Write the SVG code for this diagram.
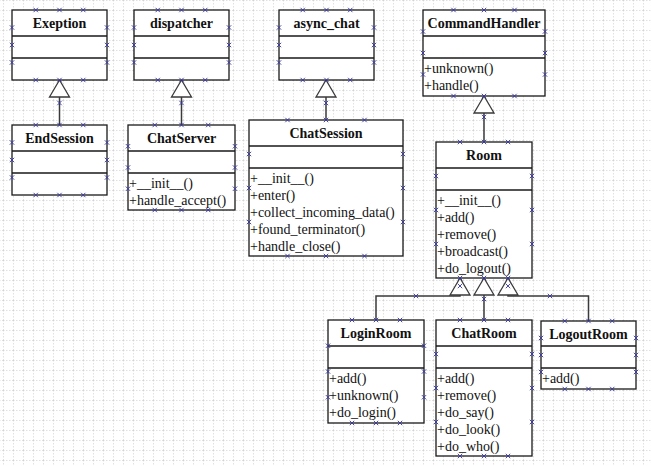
<svg xmlns="http://www.w3.org/2000/svg" xmlns:xlink="http://www.w3.org/1999/xlink" width="651" height="466" viewBox="0 0 651 466">
<style>
.box{fill:#fff;stroke:#1a1a1a;stroke-width:1.3}
.sep{stroke:#1a1a1a;stroke-width:1.3}
.hd{font-family:"Liberation Serif","Times New Roman",serif;font-weight:bold;font-size:14px;text-anchor:middle;fill:#111}
.op{font-family:"Liberation Serif","Times New Roman",serif;font-size:14px;fill:#111}
.con{fill:none;stroke:#3a3a3a;stroke-width:1.5}
.tri{fill:#fff;stroke:#3a3a3a;stroke-width:1.3}
.hx{stroke:#3636a6;stroke-width:0.9;fill:none}
</style>
<defs>
<pattern id="grid" x="3" y="0" width="10" height="10" patternUnits="userSpaceOnUse">
<path d="M0 0V10M0 0H10" fill="none" stroke="#c4c4c4" stroke-width="1" stroke-dasharray="1.5 1.5"/>
</pattern>
<symbol id="h" overflow="visible"><path class="hx" d="M-2.2-2.2L2.2 2.2M-2.2 2.2L2.2-2.2"/></symbol>
</defs>
<rect width="651" height="466" fill="#fff"/>
<rect width="651" height="466" fill="url(#grid)"/>

<g id="connectors">
<path class="con" d="M59.5 97V125"/>
<path class="tri" d="M59.5 80L49.5 97H69.5Z"/>
<path class="con" d="M181.5 97V125"/>
<path class="tri" d="M181.5 80L171.5 97H191.5Z"/>
<path class="con" d="M326 97V120"/>
<path class="tri" d="M326 80L316 97H336Z"/>
<path class="con" d="M484 113V142"/>
<path class="tri" d="M484 96L474 113H494Z"/>
<path class="con" d="M376 320V296H460V295"/>
<path class="con" d="M484 295V320"/>
<path class="con" d="M508 295V296H588.5V321"/>
<path class="tri" d="M460 278L450 295H470Z"/>
<path class="tri" d="M484 278L474 295H494Z"/>
<path class="tri" d="M508 278L498 295H518Z"/>
<use href="#h" x="59.5" y="103"/>
<use href="#h" x="181.5" y="103"/>
<use href="#h" x="326" y="103"/>
<use href="#h" x="484" y="117"/>
<use href="#h" x="416" y="296"/>
<use href="#h" x="484" y="299"/>
<use href="#h" x="550" y="296"/>
<use href="#h" x="460" y="286"/>
<use href="#h" x="508" y="286"/>
</g>

<g id="Exeption">
<rect class="box" x="12" y="10" width="95" height="70"/>
<path class="sep" d="M12 36H107M12 58H107"/>
<text class="hd" x="59.5" y="28">Exeption</text>
<use href="#h" x="35.75" y="10"/><use href="#h" x="59.5" y="10"/><use href="#h" x="83.25" y="10"/>
<use href="#h" x="35.75" y="80"/><use href="#h" x="59.5" y="80"/><use href="#h" x="83.25" y="80"/>
<use href="#h" x="12" y="27.5"/><use href="#h" x="12" y="45"/><use href="#h" x="12" y="62.5"/>
<use href="#h" x="107" y="27.5"/><use href="#h" x="107" y="45"/><use href="#h" x="107" y="62.5"/>
</g>

<g id="dispatcher">
<rect class="box" x="134" y="10" width="95" height="70"/>
<path class="sep" d="M134 36H229M134 58H229"/>
<text class="hd" x="181.5" y="28">dispatcher</text>
<use href="#h" x="157.75" y="10"/><use href="#h" x="181.5" y="10"/><use href="#h" x="205.25" y="10"/>
<use href="#h" x="157.75" y="80"/><use href="#h" x="181.5" y="80"/><use href="#h" x="205.25" y="80"/>
<use href="#h" x="134" y="27.5"/><use href="#h" x="134" y="45"/><use href="#h" x="134" y="62.5"/>
<use href="#h" x="229" y="27.5"/><use href="#h" x="229" y="45"/><use href="#h" x="229" y="62.5"/>
</g>

<g id="async_chat">
<rect class="box" x="279" y="10" width="95" height="70"/>
<path class="sep" d="M279 36H374M279 58H374"/>
<text class="hd" x="326.5" y="28">async_chat</text>
<use href="#h" x="302.75" y="10"/><use href="#h" x="326.5" y="10"/><use href="#h" x="350.25" y="10"/>
<use href="#h" x="302.75" y="80"/><use href="#h" x="326.5" y="80"/><use href="#h" x="350.25" y="80"/>
<use href="#h" x="279" y="27.5"/><use href="#h" x="279" y="45"/><use href="#h" x="279" y="62.5"/>
<use href="#h" x="374" y="27.5"/><use href="#h" x="374" y="45"/><use href="#h" x="374" y="62.5"/>
</g>

<g id="CommandHandler">
<rect class="box" x="423" y="10" width="122" height="86"/>
<path class="sep" d="M423 36H545M423 58H545"/>
<text class="hd" x="484" y="28">CommandHandler</text>
<text class="op" x="424" y="73">+unknown()</text>
<text class="op" x="424" y="90">+handle()</text>
<use href="#h" x="453.5" y="10"/><use href="#h" x="484" y="10"/><use href="#h" x="514.5" y="10"/>
<use href="#h" x="453.5" y="96"/><use href="#h" x="484" y="96"/><use href="#h" x="514.5" y="96"/>
<use href="#h" x="423" y="31.5"/><use href="#h" x="423" y="53"/><use href="#h" x="423" y="74.5"/>
<use href="#h" x="545" y="31.5"/><use href="#h" x="545" y="53"/><use href="#h" x="545" y="74.5"/>
</g>

<g id="EndSession">
<rect class="box" x="12" y="125" width="95" height="70"/>
<path class="sep" d="M12 151H107M12 173H107"/>
<text class="hd" x="59.5" y="143">EndSession</text>
<use href="#h" x="35.75" y="125"/><use href="#h" x="59.5" y="125"/><use href="#h" x="83.25" y="125"/>
<use href="#h" x="35.75" y="195"/><use href="#h" x="59.5" y="195"/><use href="#h" x="83.25" y="195"/>
<use href="#h" x="12" y="142.5"/><use href="#h" x="12" y="160"/><use href="#h" x="12" y="177.5"/>
<use href="#h" x="107" y="142.5"/><use href="#h" x="107" y="160"/><use href="#h" x="107" y="177.5"/>
</g>

<g id="ChatServer">
<rect class="box" x="128" y="125" width="107" height="85"/>
<path class="sep" d="M128 151H235M128 173H235"/>
<text class="hd" x="181.5" y="143">ChatServer</text>
<text class="op" x="129" y="188">+__init__()</text>
<text class="op" x="129" y="205">+handle_accept()</text>
<use href="#h" x="154.75" y="125"/><use href="#h" x="181.5" y="125"/><use href="#h" x="208.25" y="125"/>
<use href="#h" x="154.75" y="210"/><use href="#h" x="181.5" y="210"/><use href="#h" x="208.25" y="210"/>
<use href="#h" x="128" y="146.25"/><use href="#h" x="128" y="167.5"/><use href="#h" x="128" y="188.75"/>
<use href="#h" x="235" y="146.25"/><use href="#h" x="235" y="167.5"/><use href="#h" x="235" y="188.75"/>
</g>

<g id="ChatSession">
<rect class="box" x="249" y="120" width="154" height="136"/>
<path class="sep" d="M249 146H403M249 168H403"/>
<text class="hd" x="326" y="138">ChatSession</text>
<text class="op" x="250" y="183">+__init__()</text>
<text class="op" x="250" y="200">+enter()</text>
<text class="op" x="250" y="217">+collect_incoming_data()</text>
<text class="op" x="250" y="234">+found_terminator()</text>
<text class="op" x="250" y="251">+handle_close()</text>
<use href="#h" x="287.5" y="120"/><use href="#h" x="326" y="120"/><use href="#h" x="364.5" y="120"/>
<use href="#h" x="287.5" y="256"/><use href="#h" x="326" y="256"/><use href="#h" x="364.5" y="256"/>
<use href="#h" x="249" y="154"/><use href="#h" x="249" y="188"/><use href="#h" x="249" y="222"/>
<use href="#h" x="403" y="154"/><use href="#h" x="403" y="188"/><use href="#h" x="403" y="222"/>
</g>

<g id="Room">
<rect class="box" x="436" y="142" width="96" height="136"/>
<path class="sep" d="M436 168H532M436 190H532"/>
<text class="hd" x="484" y="160">Room</text>
<text class="op" x="437" y="205">+__init__()</text>
<text class="op" x="437" y="222">+add()</text>
<text class="op" x="437" y="239">+remove()</text>
<text class="op" x="437" y="256">+broadcast()</text>
<text class="op" x="437" y="273">+do_logout()</text>
<use href="#h" x="460" y="142"/><use href="#h" x="484" y="142"/><use href="#h" x="508" y="142"/>
<use href="#h" x="460" y="278"/><use href="#h" x="484" y="278"/><use href="#h" x="508" y="278"/>
<use href="#h" x="436" y="176"/><use href="#h" x="436" y="210"/><use href="#h" x="436" y="244"/>
<use href="#h" x="532" y="176"/><use href="#h" x="532" y="210"/><use href="#h" x="532" y="244"/>
</g>

<g id="LoginRoom">
<rect class="box" x="328" y="320" width="96" height="103"/>
<path class="sep" d="M328 346H424M328 368H424"/>
<text class="hd" x="376" y="338">LoginRoom</text>
<text class="op" x="329" y="383">+add()</text>
<text class="op" x="329" y="400">+unknown()</text>
<text class="op" x="329" y="417">+do_login()</text>
<use href="#h" x="352" y="320"/><use href="#h" x="376" y="320"/><use href="#h" x="400" y="320"/>
<use href="#h" x="352" y="423"/><use href="#h" x="376" y="423"/><use href="#h" x="400" y="423"/>
<use href="#h" x="328" y="345.75"/><use href="#h" x="328" y="371.5"/><use href="#h" x="328" y="397.25"/>
<use href="#h" x="424" y="345.75"/><use href="#h" x="424" y="371.5"/><use href="#h" x="424" y="397.25"/>
</g>

<g id="ChatRoom">
<rect class="box" x="436" y="320" width="96" height="136"/>
<path class="sep" d="M436 346H532M436 368H532"/>
<text class="hd" x="484" y="338">ChatRoom</text>
<text class="op" x="437" y="383">+add()</text>
<text class="op" x="437" y="400">+remove()</text>
<text class="op" x="437" y="417">+do_say()</text>
<text class="op" x="437" y="434">+do_look()</text>
<text class="op" x="437" y="451">+do_who()</text>
<use href="#h" x="460" y="320"/><use href="#h" x="484" y="320"/><use href="#h" x="508" y="320"/>
<use href="#h" x="460" y="456"/><use href="#h" x="484" y="456"/><use href="#h" x="508" y="456"/>
<use href="#h" x="436" y="354"/><use href="#h" x="436" y="388"/><use href="#h" x="436" y="422"/>
<use href="#h" x="532" y="354"/><use href="#h" x="532" y="388"/><use href="#h" x="532" y="422"/>
</g>

<g id="LogoutRoom">
<rect class="box" x="541" y="321" width="95" height="68"/>
<path class="sep" d="M541 346H636M541 368H636"/>
<text class="hd" x="588.5" y="339">LogoutRoom</text>
<text class="op" x="542" y="383">+add()</text>
<use href="#h" x="564.75" y="321"/><use href="#h" x="588.5" y="321"/><use href="#h" x="612.25" y="321"/>
<use href="#h" x="564.75" y="389"/><use href="#h" x="588.5" y="389"/><use href="#h" x="612.25" y="389"/>
<use href="#h" x="541" y="338"/><use href="#h" x="541" y="355"/><use href="#h" x="541" y="372"/>
<use href="#h" x="636" y="338"/><use href="#h" x="636" y="355"/><use href="#h" x="636" y="372"/>
</g>
</svg>
